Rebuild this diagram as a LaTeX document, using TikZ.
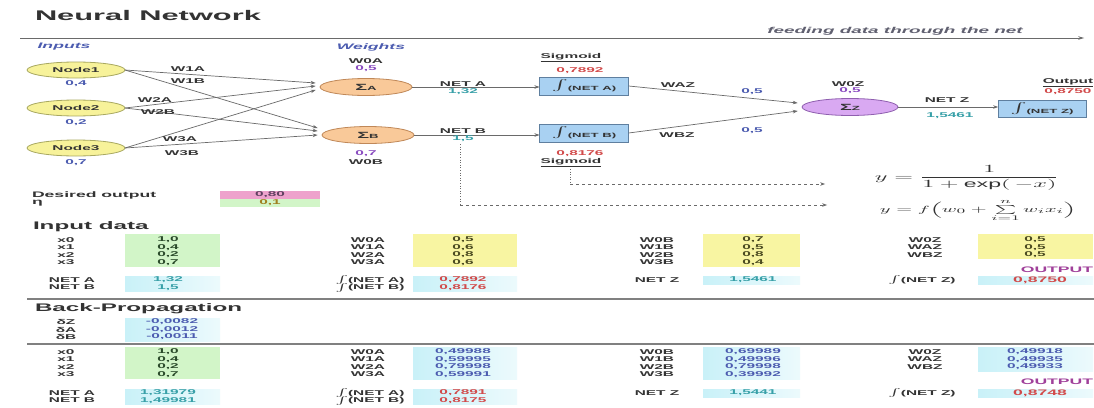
\documentclass[tikz,border=0pt]{standalone}
\usepackage{fontspec}
\setmainfont{Liberation Sans}
\usepackage{amsmath}
\usetikzlibrary{arrows.meta,shapes.geometric}
\newcommand\myfs[1]{\fontsize{#1}{#1}\selectfont}
\newcommand\myint[1]{{\myfs{11}$\int$}\raisebox{-2pt}{\myfs{6}(#1)}}
\newcommand\mysint[1]{{\myfs{8}$\int$}(#1)}
\definecolor{yelfill}{HTML}{F7F29A}
\definecolor{yelbd}{HTML}{A8A860}
\definecolor{peach}{HTML}{F9C999}
\definecolor{peachbd}{HTML}{C08858}
\definecolor{sigfill}{HTML}{A9D1F2}
\definecolor{sigbd}{HTML}{5F7F9F}
\definecolor{lav}{HTML}{D9A9F2}
\definecolor{lavbd}{HTML}{8F5FAF}
\definecolor{linegray}{HTML}{6A6A6A}
\definecolor{blueval}{HTML}{4C5CB0}
\definecolor{purpval}{HTML}{8A4CC0}
\definecolor{redval}{HTML}{D24A4A}
\definecolor{tealval}{HTML}{38A0A8}
\definecolor{txtgray}{HTML}{333333}
\definecolor{tgreen}{HTML}{D2F5C8}
\definecolor{tyellow}{HTML}{F8F5A2}
\definecolor{tcyan}{HTML}{C9F1F8}
\definecolor{tpink}{HTML}{EEA2CC}
\definecolor{outpurple}{HTML}{A0409A}
\definecolor{feedgray}{HTML}{606070}
\definecolor{sepgray}{HTML}{808080}
\definecolor{darkgreen}{HTML}{2A4A2A}
\definecolor{darkolive}{HTML}{4A4A20}
\definecolor{olive}{HTML}{A08020}
\definecolor{pinktxt}{HTML}{604060}
\begin{document}
\begin{tikzpicture}[x=0.454545pt,y=-1pt,xscale=2.2,transform shape,
  every node/.style={inner sep=0pt,outer sep=0pt},
  txt/.style={font=\bfseries\myfs{7},text=txtgray},
  bval/.style={txt,text=blueval},
  pval/.style={txt,text=purpval},
  rval/.style={txt,text=redval},
  tval/.style={txt,text=tealval},
  gval/.style={txt,text=darkgreen},
  yval/.style={txt,text=darkolive},
  sub/.style={font=\bfseries\itshape\myfs{8},text=blueval},
  head/.style={font=\bfseries\myfs{11},text=txtgray,anchor=west},
  inp/.style={ellipse,draw=yelbd,fill=yelfill,line width=0.8pt,minimum width=44.5pt,minimum height=16pt,font=\bfseries\myfs{7},text=txtgray},
  sumn/.style={ellipse,draw=peachbd,fill=peach,line width=0.8pt,minimum width=41.8pt,minimum height=17pt,text=txtgray,font=\bfseries},
  sumz/.style={sumn,draw=lavbd,fill=lav,minimum width=43.6pt},
  sigbox/.style={rectangle,draw=sigbd,fill=sigfill,line width=0.8pt,minimum width=40.5pt,minimum height=18pt,text=txtgray,font=\bfseries},
  conn/.style={draw=linegray,line width=0.7pt,-{Stealth[length=5pt,width=3.5pt]}},
  dotline/.style={draw=linegray,line width=0.6pt,dotted},
  dashline/.style={draw=linegray,line width=0.6pt,dashed,-{Stealth[length=5pt,width=3.5pt]}},
  sepline/.style={draw=sepgray,line width=1.3pt},
  cyanbox/.style={left color=tcyan,right color=tcyan!35},
]
\fill[white] (0,0) rectangle (1094,407);
\useasboundingbox (0,0) rectangle (1094,407);

% ---------- header ----------
\node[font=\bfseries\myfs{14},text=txtgray,anchor=west] (title) at (35,15) {Neural Network};
\coordinate (hl0) at (20,38);
\coordinate (hl1) at (1084,38);
\draw[draw=linegray,line width=0.8pt,-{Stealth[length=6pt,width=3.5pt]}] (hl0) -- (hl1);
\node[font=\bfseries\itshape\myfs{8.6},text=feedgray] (feed) at (895,31) {feeding data through the net};
\node[sub] (inputs) at (64,47) {Inputs};
\node[sub] (weights) at (371,47) {Weights};

% ---------- network ----------
\node[inp] (n1) at (76,70) {Node1};
\node[inp] (n2) at (76,108) {Node2};
\node[inp] (n3) at (76,148) {Node3};
\node[bval] (v1) at (76,84) {0,4};
\node[bval] (v2) at (76,123) {0,2};
\node[bval] (v3) at (76,163) {0,7};

\node[sumn] (sA) at (366,87) {{\myfs{9}Σ}{\myfs{6}A}};
\node[sumn] (sB) at (368,135) {{\myfs{9}Σ}{\myfs{6}B}};
\node[txt] (w0a) at (366,61) {W0A};
\node[pval] (w0av) at (366,68.5) {0,5};
\node[pval] (w0bv) at (366,154) {0,7};
\node[txt] (w0b) at (366,162) {W0B};

\draw[conn] (n1.east) -- ([xshift=-2pt,yshift=4pt]sA.west);
\draw[conn] (n2.east) -- ([xshift=-2pt,yshift=1pt]sA.west);
\draw[conn] (n3.east) -- ([xshift=-2pt,yshift=-3pt]sA.west);
\draw[conn] (n1.east) -- ([xshift=-2pt,yshift=7pt]sB.west);
\draw[conn] (n2.east) -- ([xshift=-2pt,yshift=4pt]sB.west);
\draw[conn] (n3.east) -- ([xshift=-2pt,yshift=0pt]sB.west);
\node[txt] (l1a) at (188,69) {W1A};
\node[txt] (l1b) at (188,81) {W1B};
\node[txt] (l2a) at (155,100) {W2A};
\node[txt] (l2b) at (158,112) {W2B};
\node[txt] (l3a) at (180,139) {W3A};
\node[txt] (l3b) at (182,153) {W3B};

\node[sigbox] (sigA) at (584,86) {\myint{NET A}};
\node[sigbox] (sigB) at (584,133) {\myint{NET B}};
\draw[conn] (sA.east) -- (sA.east -| sigA.west);
\draw[conn] (sB.east) -- (sB.east -| sigB.west);
\node[txt] (netA) at (463,84) {NET A};
\node[tval] (netAv) at (463,92) {1,32};
\node[txt] (netB) at (463,131) {NET B};
\node[tval] (netBv) at (463,139) {1,5};
\node[txt] (sigAl) at (571,58) {\underline{Sigmoid}};
\node[rval] (sigAv) at (580,70.5) {0,7892};
\node[rval] (sigBv) at (580,154) {0,8176};
\node[txt] (sigBl) at (571,162.5) {\underline{Sigmoid}};

\node[sumz] (sZ) at (850,107) {{\myfs{9}Σ}{\myfs{6}Z}};
\draw[conn] (sigA.east) -- ([xshift=-2pt,yshift=4pt]sZ.west);
\draw[conn] (sigB.east) -- ([xshift=-2pt,yshift=-4pt]sZ.west);
\node[txt] (waz) at (678,85) {WAZ};
\node[txt] (wbz) at (677,135) {WBZ};
\node[bval] (wazv) at (752,92) {0,5};
\node[bval] (wbzv) at (752,131) {0,5};
\node[txt] (w0z) at (848,84) {W0Z};
\node[pval] (w0zv) at (850,91) {0,5};

\node[sigbox,minimum width=40pt,minimum height=17pt] (sigZ) at (1042,109) {\myint{NET Z}};
\draw[conn] (sZ.east) -- (sZ.east -| sigZ.west);
\node[txt] (netZ) at (947,100) {NET Z};
\node[tval] (netZv) at (950,116) {1,5461};
\node[txt] (outl) at (1068,83) {\underline{Output}};
\node[rval] (outv) at (1068,91.5) {0,8750};

% ---------- formula pointers ----------
\coordinate (dB0) at (460,144);
\coordinate (dB1) at (460,205);
\coordinate (dB2) at (827,205);
\coordinate (dS0) at (570,169);
\coordinate (dS1) at (570,184);
\coordinate (dS2) at (825,184);
\draw[dotline] (dB0) -- (dB1);
\draw[dashline] (dB1) -- (dB2);
\draw[dotline] (dS0) -- (dS1);
\draw[dashline] (dS1) -- (dS2);
\node[text=txtgray] (f1) at (967,178) {\myfs{10.5}$\displaystyle y=\frac{1}{1+\exp(\,-x)}$};
\node[text=txtgray] (f2) at (978,210.5) {\myfs{9.5}$y=f\Bigl(w_0+\sum\limits_{i=1}^{n}w_ix_i\Bigr)$};

% ---------- desired output ----------
\node[txt,font=\bfseries\myfs{8},anchor=west] (des) at (32,195) {Desired output};
\node[txt,font=\bfseries\myfs{8},anchor=west] (eta) at (32,203) {η};
\fill[tpink] (220,191) rectangle (320,199);
\fill[tgreen] (220,199) rectangle (320,207);
\node[txt,text=pinktxt] (desv) at (270,195) {0,80};
\node[txt,text=olive] (etav) at (270,203) {0,1};

% ---------- input data ----------
\node[head] (inhead) at (33,227) {Input data};
\fill[tgreen] (125,234) rectangle (220,267);
\fill[cyanbox] (125,276) rectangle (220,291);
\fill[tyellow] (413,234) rectangle (517,267);
\fill[cyanbox] (413,276) rectangle (517,291);
\fill[tyellow] (703,234) rectangle (800,267);
\fill[cyanbox] (703,276) rectangle (800,284);
\fill[tyellow] (978,234) rectangle (1093,259);
\fill[cyanbox] (978,276) rectangle (1093,284);

\node[txt] (ax0) at (66,240) {x0};
\node[txt] (ax1) at (66,247.5) {x1};
\node[txt] (ax2) at (66,255) {x2};
\node[txt] (ax3) at (66,262.5) {x3};
\node[gval] (ax0v) at (168,240) {1,0};
\node[gval] (ax1v) at (168,247.5) {0,4};
\node[gval] (ax2v) at (168,255) {0,2};
\node[gval] (ax3v) at (168,262.5) {0,7};
\node[txt] (anA) at (72,280) {NET A};
\node[txt] (anB) at (72,287.5) {NET B};
\node[tval] (anAv) at (168,280) {1,32};
\node[tval] (anBv) at (168,287.5) {1,5};

\node[txt] (aw0a) at (368,240) {W0A};
\node[txt] (aw1a) at (368,247.5) {W1A};
\node[txt] (aw2a) at (368,255) {W2A};
\node[txt] (aw3a) at (368,262.5) {W3A};
\node[yval] (aw0av) at (463,240) {0,5};
\node[yval] (aw1av) at (463,247.5) {0,6};
\node[yval] (aw2av) at (463,255) {0,8};
\node[yval] (aw3av) at (463,262.5) {0,6};
\node[txt] (asA) at (370,280) {\mysint{NET A}};
\node[txt] (asB) at (370,287.5) {\mysint{NET B}};
\node[rval] (asAv) at (463,280) {0,7892};
\node[rval] (asBv) at (463,287.5) {0,8176};

\node[txt] (aw0b) at (657,240) {W0B};
\node[txt] (aw1b) at (657,247.5) {W1B};
\node[txt] (aw2b) at (657,255) {W2B};
\node[txt] (aw3b) at (657,262.5) {W3B};
\node[yval] (aw0bv) at (753,240) {0,7};
\node[yval] (aw1bv) at (753,247.5) {0,5};
\node[yval] (aw2bv) at (753,255) {0,8};
\node[yval] (aw3bv) at (753,262.5) {0,4};
\node[txt] (anZ) at (657,280) {NET Z};
\node[tval] (anZv) at (753,280) {1,5461};

\node[txt] (aw0z) at (925,240) {W0Z};
\node[txt] (awaz) at (925,247.5) {WAZ};
\node[txt] (awbz) at (925,255) {WBZ};
\node[yval] (aw0zv) at (1035,240) {0,5};
\node[yval] (awazv) at (1035,247.5) {0,5};
\node[yval] (awbzv) at (1035,255) {0,5};
\node[txt,font=\bfseries\myfs{8},text=outpurple] (aout) at (1057,270) {OUTPUT};
\node[txt] (asZ) at (922,280) {\mysint{NET Z}};
\node[rval,font=\bfseries\myfs{8}] (asZv) at (1040,280) {0,8750};

% ---------- separators ----------
\coordinate (s1a) at (27,299);
\coordinate (s1b) at (1094,299);
\coordinate (s2a) at (27,344);
\coordinate (s2b) at (1094,344);
\draw[sepline] (s1a) -- (s1b);
\draw[sepline] (s2a) -- (s2b);

% ---------- back-propagation ----------
\node[head] (bphead) at (35,309) {Back-Propagation};
\fill[cyanbox] (125,318) rectangle (220,341);
\node[txt] (dZ) at (66,322) {δZ};
\node[txt] (dA) at (66,329.5) {δA};
\node[txt] (dB) at (66,337) {δB};
\node[bval] (dZv) at (172,322) {-0,0082};
\node[bval] (dAv) at (172,329.5) {-0,0012};
\node[bval] (dBv) at (172,337) {-0,0011};

\fill[tgreen] (125,347) rectangle (220,379);
\fill[cyanbox] (125,389) rectangle (220,404);
\fill[cyanbox] (413,347) rectangle (517,379);
\fill[cyanbox] (413,389) rectangle (517,404);
\fill[cyanbox] (703,347) rectangle (800,379);
\fill[cyanbox] (703,389) rectangle (800,397);
\fill[cyanbox] (978,347) rectangle (1093,371);
\fill[cyanbox] (978,389) rectangle (1093,397);

\node[txt] (bx0) at (66,352) {x0};
\node[txt] (bx1) at (66,359.5) {x1};
\node[txt] (bx2) at (66,367) {x2};
\node[txt] (bx3) at (66,374.5) {x3};
\node[gval] (bx0v) at (168,352) {1,0};
\node[gval] (bx1v) at (168,359.5) {0,4};
\node[gval] (bx2v) at (168,367) {0,2};
\node[gval] (bx3v) at (168,374.5) {0,7};
\node[txt] (bnA) at (72,393) {NET A};
\node[txt] (bnB) at (72,400.5) {NET B};
\node[tval] (bnAv) at (168,393) {1,31979};
\node[tval] (bnBv) at (168,400.5) {1,49981};

\node[txt] (bw0a) at (368,352) {W0A};
\node[txt] (bw1a) at (368,359.5) {W1A};
\node[txt] (bw2a) at (368,367) {W2A};
\node[txt] (bw3a) at (368,374.5) {W3A};
\node[bval] (bw0av) at (463,352) {0,49988};
\node[bval] (bw1av) at (463,359.5) {0,59995};
\node[bval] (bw2av) at (463,367) {0,79998};
\node[bval] (bw3av) at (463,374.5) {0,59991};
\node[txt] (bsA) at (370,393) {\mysint{NET A}};
\node[txt] (bsB) at (370,400.5) {\mysint{NET B}};
\node[rval] (bsAv) at (463,393) {0,7891};
\node[rval] (bsBv) at (463,400.5) {0,8175};

\node[txt] (bw0b) at (657,352) {W0B};
\node[txt] (bw1b) at (657,359.5) {W1B};
\node[txt] (bw2b) at (657,367) {W2B};
\node[txt] (bw3b) at (657,374.5) {W3B};
\node[bval] (bw0bv) at (753,352) {0,69989};
\node[bval] (bw1bv) at (753,359.5) {0,49996};
\node[bval] (bw2bv) at (753,367) {0,79998};
\node[bval] (bw3bv) at (753,374.5) {0,39992};
\node[txt] (bnZ) at (657,393) {NET Z};
\node[tval] (bnZv) at (753,393) {1,5441};

\node[txt] (bw0z) at (925,352) {W0Z};
\node[txt] (bwaz) at (925,359.5) {WAZ};
\node[txt] (bwbz) at (925,367) {WBZ};
\node[bval] (bw0zv) at (1035,352) {0,49918};
\node[bval] (bwazv) at (1035,359.5) {0,49935};
\node[bval] (bwbzv) at (1035,367) {0,49933};
\node[txt,font=\bfseries\myfs{8},text=outpurple] (bout) at (1057,382) {OUTPUT};
\node[txt] (bsZ) at (922,393) {\mysint{NET Z}};
\node[rval,font=\bfseries\myfs{8}] (bsZv) at (1040,393) {0,8748};
\end{tikzpicture}
\end{document}
